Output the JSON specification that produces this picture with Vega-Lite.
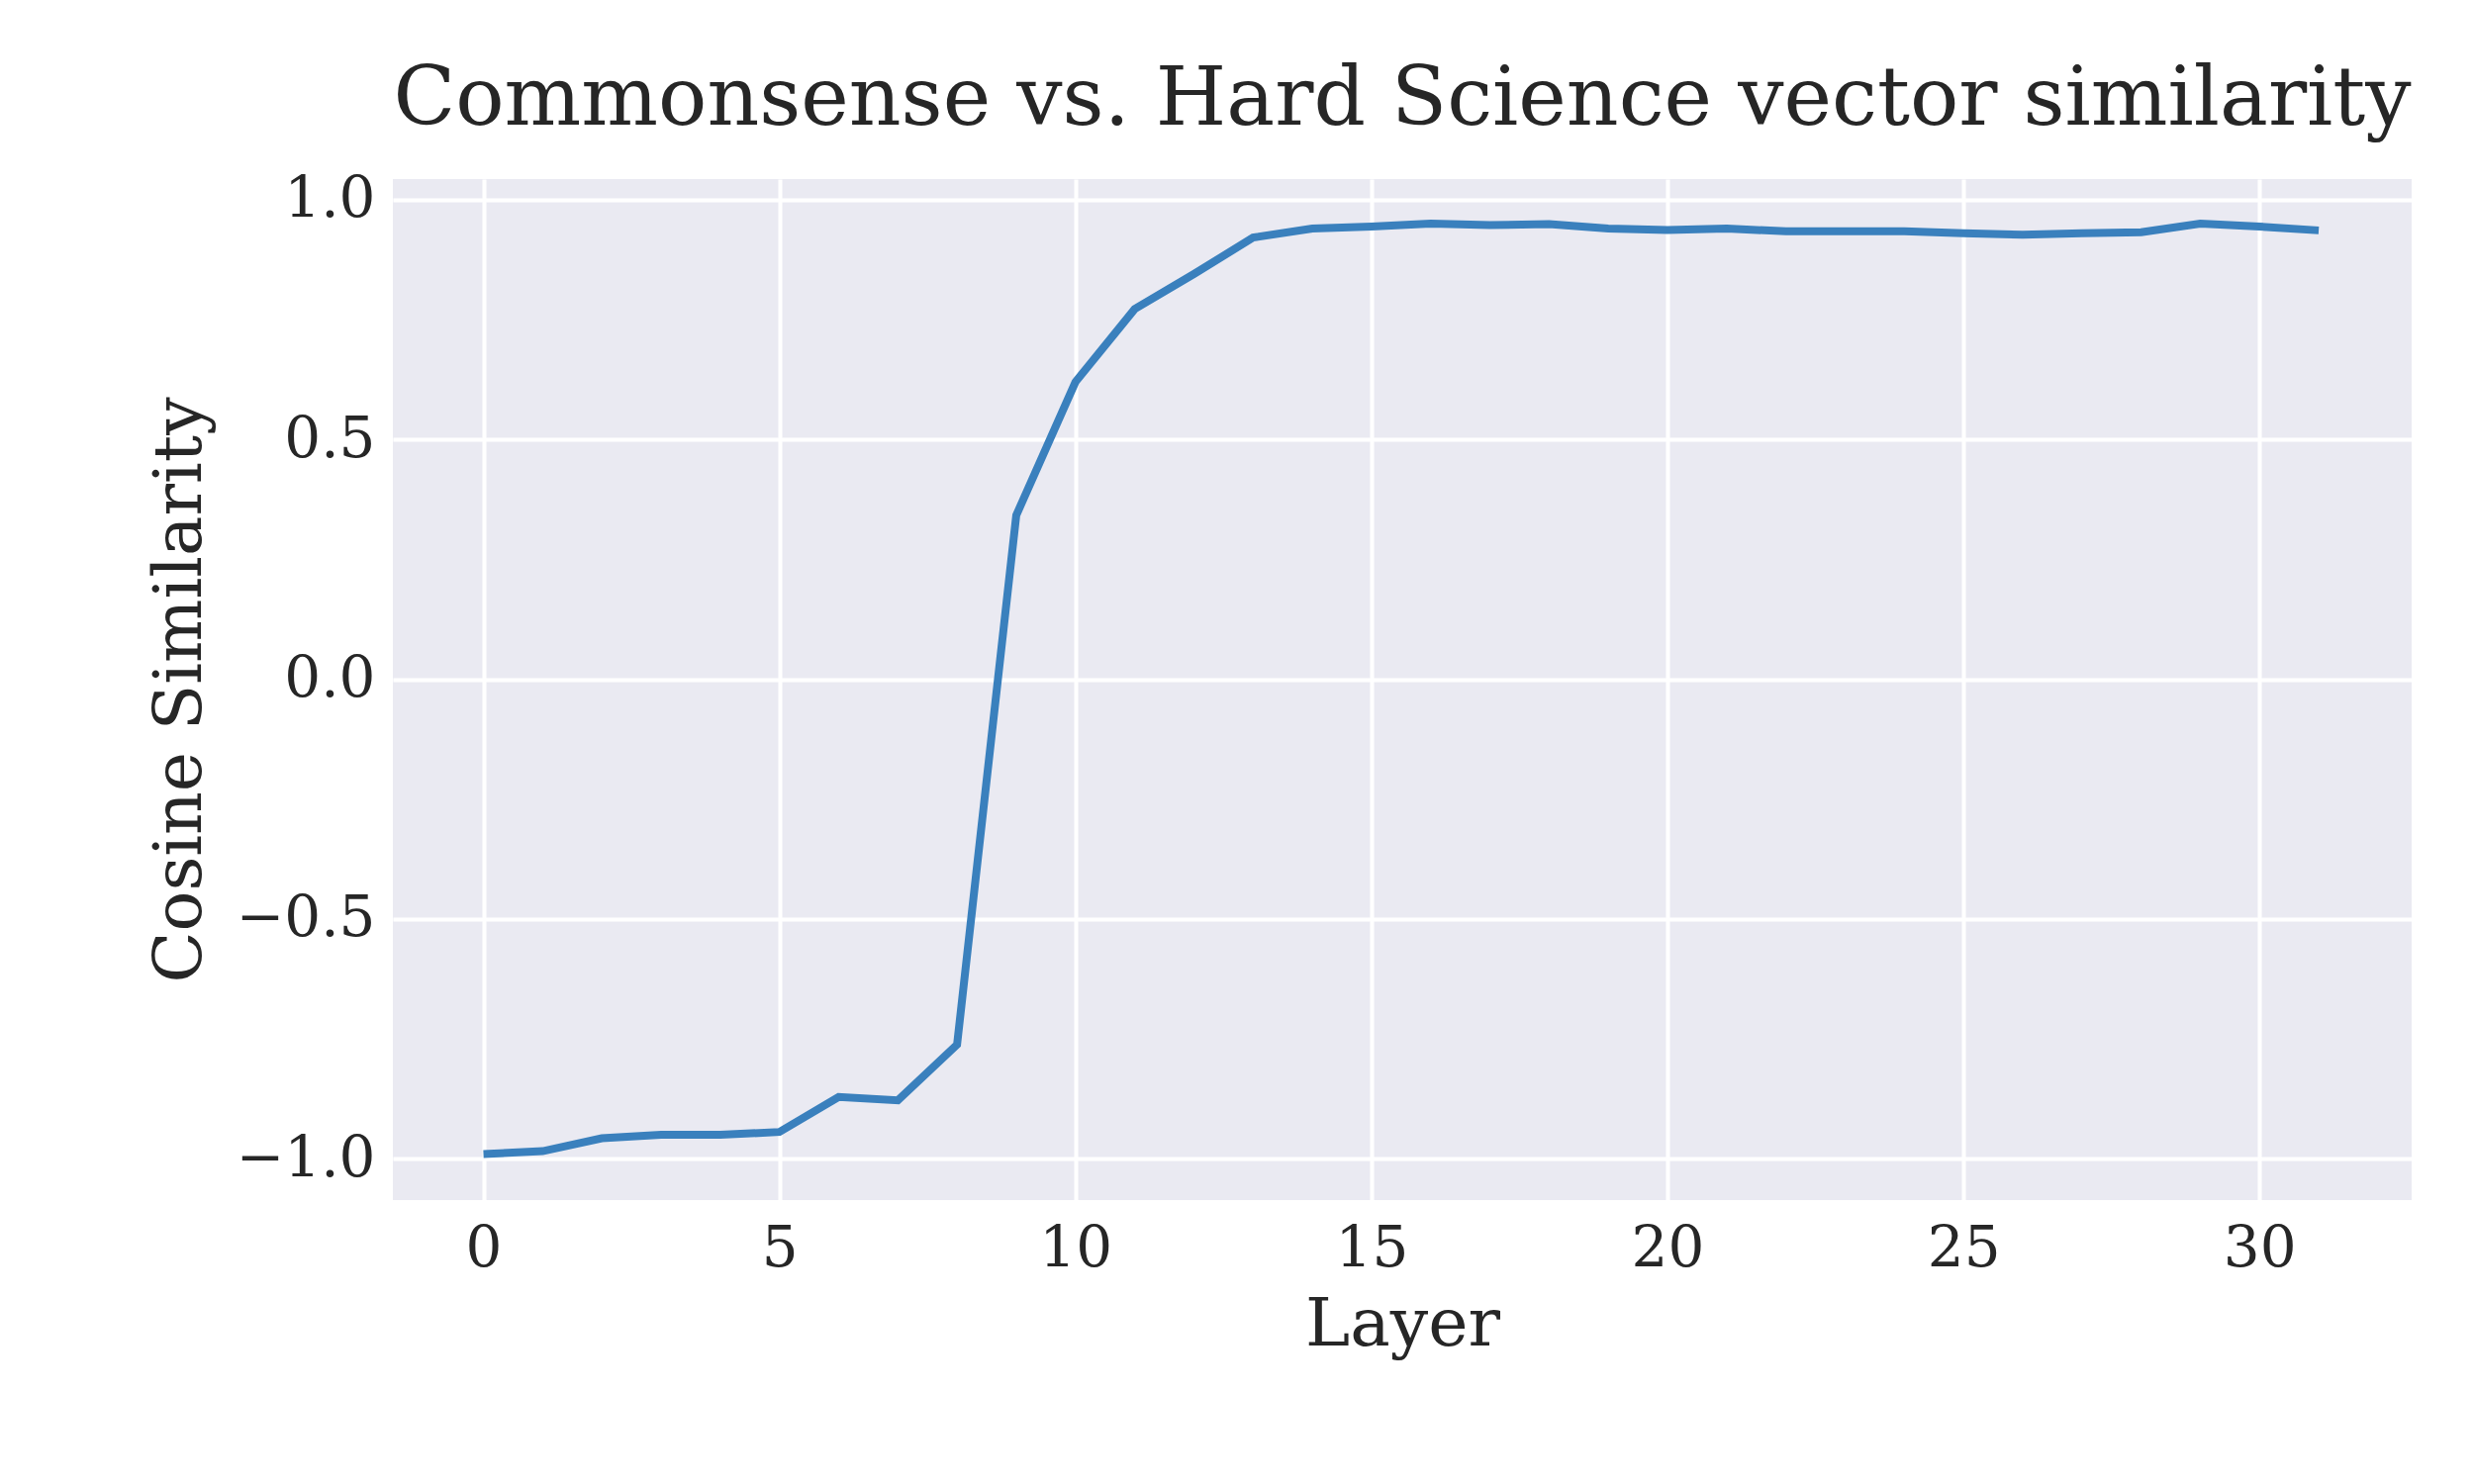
{
"$schema":"https://vega.github.io/schema/vega-lite/v6.json",
"width":2040,"height":1032,
"autosize":{"type":"none"},
"padding":{"left":397,"top":181,"right":62,"bottom":287},
"background":"white",
"config":{"font":"DejaVu Serif","view":{"fill":"#EAEAF2","stroke":null}},
"title":{"text":"Commonsense vs. Hard Science vector similarity","fontSize":82,"font":"DejaVu Serif","fontWeight":"normal","color":"#262626","offset":30},
"data":{"values":[
{"layer":0,"sim":-0.99},{"layer":1,"sim":-0.984},{"layer":2,"sim":-0.957},{"layer":3,"sim":-0.95},{"layer":4,"sim":-0.95},{"layer":5,"sim":-0.944},{"layer":6,"sim":-0.871},{"layer":7,"sim":-0.878},{"layer":8,"sim":-0.762},{"layer":9,"sim":0.342},{"layer":10,"sim":0.62},{"layer":11,"sim":0.772},{"layer":12,"sim":0.845},{"layer":13,"sim":0.921},{"layer":14,"sim":0.94},{"layer":15,"sim":0.944},{"layer":16,"sim":0.95},{"layer":17,"sim":0.947},{"layer":18,"sim":0.949},{"layer":19,"sim":0.94},{"layer":20,"sim":0.937},{"layer":21,"sim":0.94},{"layer":22,"sim":0.934},{"layer":23,"sim":0.934},{"layer":24,"sim":0.934},{"layer":25,"sim":0.93},{"layer":26,"sim":0.927},{"layer":27,"sim":0.93},{"layer":28,"sim":0.932},{"layer":29,"sim":0.95},{"layer":30,"sim":0.944},{"layer":31,"sim":0.936}
]},
"mark":{"type":"line","color":"#3A80BD","strokeWidth":8},
"encoding":{
"x":{"field":"layer","type":"quantitative","title":"Layer","scale":{"domain":[-1.53,32.57],"nice":false,"zero":false},
"axis":{"values":[0,5,10,15,20,25,30],"grid":true,"gridColor":"white","gridWidth":4,"domain":false,"ticks":false,"labelFontSize":58,"labelColor":"#262626","labelPadding":20,"titleFontSize":68,"titleFontWeight":"normal","titleColor":"#262626","titlePadding":14}},
"y":{"field":"sim","type":"quantitative","title":"Cosine Similarity","scale":{"domain":[-1.086,1.043],"nice":false,"zero":false},
"axis":{"values":[-1,-0.5,0,0.5,1],"labelExpr":"replace(format(datum.value,'.1f'),'-','−')","grid":true,"gridColor":"white","gridWidth":4,"domain":false,"ticks":false,"labelFontSize":58,"labelColor":"#262626","labelPadding":18,"titleFontSize":68,"titleFontWeight":"normal","titleColor":"#262626","titlePadding":22}}
}
}
